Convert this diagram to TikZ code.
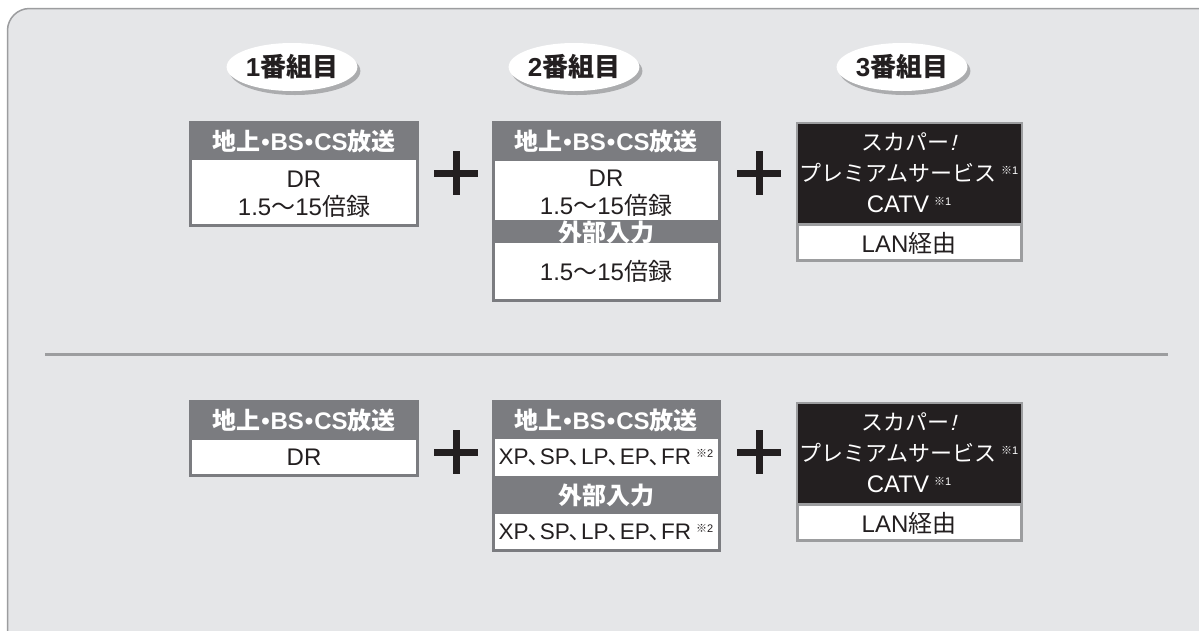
\documentclass[tikz,border=0pt]{standalone}
\usepackage{fontspec}
\setmainfont{Noto Sans CJK JP}
\newfontfamily\lat{Liberation Sans}
\newfontfamily\latsl{Liberation Sans}[FakeSlant=0.25]
\usetikzlibrary{shapes.geometric,shadows}

\definecolor{panelbg}{HTML}{E5E6E8}
\definecolor{hdrgray}{HTML}{7B7C80}
\definecolor{rulegray}{HTML}{9C9D9F}
\definecolor{inkblack}{HTML}{231F20}
\definecolor{shadowgray}{HTML}{ABACAE}

\newcommand{\kome}[1]{\hspace{5pt}{\fontsize{11}{11}\selectfont\raisebox{7pt}{※{\lat #1}}}}
\newcommand{\skyp}{スカパー{\latsl !}}
\newcommand{\dotsep}{{\lat\hspace{1pt}•\hspace{1pt}}}
\newcommand{\bcast}{地上\dotsep{\lat BS}\dotsep{\lat CS}放送}
\newcommand{\rate}{{\lat 1.5}〜{\lat 15}倍録}
\newcommand{\modes}{{\lat XP}､{\lat SP}､{\lat LP}､{\lat EP}､{\lat FR}\kome{2}}

\tikzset{
  hdr/.style={text=white, font=\fontsize{24}{26}\selectfont\bfseries, inner sep=0pt},
  body/.style={text=inkblack, font=\fontsize{24}{28}\selectfont, align=center, inner sep=0pt},
  modeline/.style={body, font=\fontsize{22.5}{28}\selectfont},
  dark/.style={text=white, font=\fontsize{22}{31}\selectfont, align=center, inner sep=0pt},
  oval/.style={ellipse, fill=white, minimum width=124pt, minimum height=48pt, inner sep=0pt,
    drop shadow={shadow xshift=3pt, shadow yshift=-4pt, fill=shadowgray, opacity=1},
    font=\fontsize{26}{26}\selectfont\bfseries, text=inkblack},
  plusbar/.style={line width=7pt, inkblack},
}

\begin{document}
\begin{tikzpicture}[x=1pt,y=-1pt]
  \useasboundingbox (0,0) rectangle (1199,630);
  \fill[white] (0,0) rectangle (1199,630);
  \filldraw[fill=panelbg, draw=rulegray, line width=1.5pt, rounded corners=22pt]
    (7.5,8.5) rectangle (1230,660);
  \draw[rulegray, line width=3pt] (45,354) -- (1168,354);

  % program labels
  \node[oval] (prog1) at (292,67) {{\lat 1}番組目};
  \node[oval] (prog2) at (574,67) {{\lat 2}番組目};
  \node[oval] (prog3) at (902,67) {{\lat 3}番組目};

  % upper row
  \fill[hdrgray] (189,121) rectangle (419,227);
  \fill[white] (192,160) rectangle (416,224);
  \node[hdr] (ua) at (304,141) {\bcast};
  \node[body] (uab) at (304,194) {{\lat DR}\\\rate};

  \fill[hdrgray] (492,121) rectangle (721,302);
  \fill[white] (495,161) rectangle (718,220);
  \fill[white] (495,243) rectangle (718,299);
  \node[hdr] (ub) at (606,141) {\bcast};
  \node[body] (ubb) at (606,193) {{\lat DR}\\\rate};
  \node[hdr] (ubx) at (606,232) {外部入力};
  \node[body] (ubxb) at (606,271) {\rate};

  \fill[rulegray] (796,122) rectangle (1023,262);
  \fill[inkblack] (798,124) rectangle (1021,223);
  \fill[white] (799,226) rectangle (1020,259);
  \node[dark] (uc) at (909,173) {\skyp\\プレミアムサービス\kome{1}\\{\lat\fontsize{24}{31}\selectfont CATV}\kome{1}};
  \node[body] (ucb) at (909,243) {{\lat LAN}経由};

  % lower row
  \fill[hdrgray] (189,400) rectangle (419,477);
  \fill[white] (192,440) rectangle (416,474);
  \node[hdr] (la) at (304,420) {\bcast};
  \node[body] (lab) at (304,457) {{\lat DR}};

  \fill[hdrgray] (492,400) rectangle (721,552);
  \fill[white] (495,439) rectangle (718,476);
  \fill[white] (495,514) rectangle (718,549);
  \node[hdr] (lb) at (606,420) {\bcast};
  \node[modeline] (lbb) at (606,457) {\modes};
  \node[hdr] (lbx) at (606,495) {外部入力};
  \node[modeline] (lbxb) at (606,532) {\modes};

  \fill[rulegray] (796,402) rectangle (1023,542);
  \fill[inkblack] (798,404) rectangle (1021,503);
  \fill[white] (799,506) rectangle (1020,539);
  \node[dark] (lc) at (909,453) {\skyp\\プレミアムサービス\kome{1}\\{\lat\fontsize{24}{31}\selectfont CATV}\kome{1}};
  \node[body] (lcb) at (909,523) {{\lat LAN}経由};

  % plus signs
  \foreach \px/\py in {456/173, 759/173, 456/452, 759/452} {
    \draw[plusbar] (\px-22,\py) -- (\px+22,\py);
    \draw[plusbar] (\px,\py-22) -- (\px,\py+22);
  }
\end{tikzpicture}
\end{document}
